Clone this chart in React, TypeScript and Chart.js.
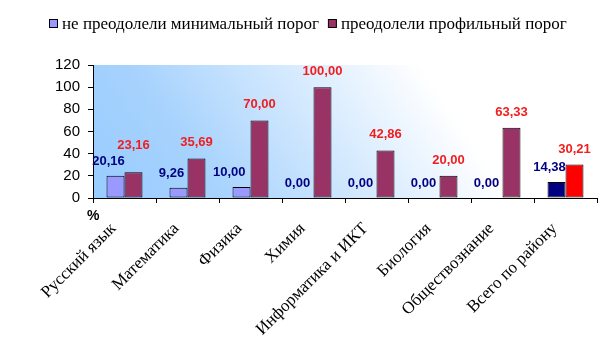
import React, { useEffect, useRef } from 'react';
import { Chart, registerables } from 'chart.js';

Chart.register(...registerables);

const categories = [
  'Русский язык',
  'Математика',
  'Физика',
  'Химия',
  'Информатика и ИКТ',
  'Биология',
  'Обществознание',
  'Всего по району',
];
const seriesNames = ['не преодолели минимальный порог', 'преодолели профильный порог'];
const belowMinimum = [20.16, 9.26, 10.0, 0.0, 0.0, 0.0, 0.0, 14.38];
const aboveProfile = [23.16, 35.69, 70.0, 100.0, 42.86, 20.0, 63.33, 30.21];
const yMin = 0;
const yMax = 120;
const yStep = 20;
const yUnit = '%';

const barColors1 = ['#9999ff', '#9999ff', '#9999ff', '#9999ff', '#9999ff', '#9999ff', '#9999ff', '#000080'];
const barColors2 = ['#993366', '#993366', '#993366', '#993366', '#993366', '#993366', '#993366', '#ff0000'];
const labelColors = ['#000080', '#f01e1e'];

const bgPlugin = {
  id: 'bgGradient',
  beforeDraw(chart: any) {
    const { ctx, chartArea: a } = chart;
    const w = a.right - a.left;
    const h = a.bottom - a.top;
    const g = ctx.createLinearGradient(a.left, a.bottom, a.left + 0.567 * w, a.top - 0.46 * h);
    g.addColorStop(0, '#99ccff');
    g.addColorStop(0.3, '#a6d2fd');
    g.addColorStop(1, '#ffffff');
    ctx.save();
    ctx.fillStyle = g;
    ctx.fillRect(a.left, a.top, w, h);
    ctx.restore();
  },
};

const fmt = (v: number) => v.toFixed(2).replace('.', ',');

const valueLabelPlugin = {
  id: 'valueLabels',
  afterDatasetsDraw(chart: any) {
    const { ctx } = chart;
    ctx.save();
    ctx.font = 'bold 13px "Liberation Sans", Arial, sans-serif';
    ctx.textAlign = 'center';
    ctx.textBaseline = 'alphabetic';
    const m0 = chart.getDatasetMeta(0);
    const m1 = chart.getDatasetMeta(1);
    const d0 = chart.data.datasets[0].data as number[];
    const d1 = chart.data.datasets[1].data as number[];
    for (let j = 0; j < d0.length; j++) {
      const e0 = m0.data[j] as any;
      const e1 = m1.data[j] as any;
      const t0 = fmt(d0[j]);
      const t1 = fmt(d1[j]);
      const w0 = ctx.measureText(t0).width;
      let x0 = e0.x - 7;
      const y0 = e0.y - 11;
      let y1 = e1.y - 12;
      // keep first label clear of neighbouring bar
      const bar1Left = e1.x - e1.width / 2;
      if (x0 + w0 / 2 > bar1Left && y0 > e1.y + 8) {
        x0 = bar1Left - 5 - w0 / 2;
      }
      // lift second label if it collides with the first
      if (Math.abs(y1 - y0) < 14) {
        y1 = y0 - 16;
      }
      ctx.fillStyle = labelColors[0];
      ctx.fillText(t0, x0, y0);
      ctx.fillStyle = labelColors[1];
      ctx.fillText(t1, e1.x, y1);
    }
    ctx.restore();
  },
};

const axisTextPlugin = {
  id: 'axisText',
  afterDraw(chart: any) {
    const { ctx } = chart;
    const xs = chart.scales.x;
    const ys = chart.scales.y;
    ctx.save();
    // category labels, rotated
    ctx.fillStyle = '#000000';
    ctx.font = '17px "Liberation Serif", "Times New Roman", serif';
    ctx.textAlign = 'right';
    ctx.textBaseline = 'middle';
    categories.forEach((label, i) => {
      const c = xs.getPixelForValue(i);
      ctx.save();
      ctx.translate(c - 11, xs.top + 28);
      ctx.rotate((-45 * Math.PI) / 180);
      ctx.fillText(label, 0, 0);
      ctx.restore();
    });
    // unit label
    ctx.font = 'bold 14px "Liberation Sans", Arial, sans-serif';
    ctx.textAlign = 'left';
    ctx.textBaseline = 'alphabetic';
    ctx.fillText(yUnit, ys.right - 6, xs.top + 22);

    // legend, centred on the canvas
    ctx.font = '17px "Liberation Serif", "Times New Roman", serif';
    ctx.textBaseline = 'alphabetic';
    const box = 8;
    const gapText = 5;
    const gapItem = 9;
    const items = chart.data.datasets.map((ds: any) => ({
      label: ds.label as string,
      color: ds.backgroundColor[0] as string,
      w: ctx.measureText(ds.label).width,
    }));
    const total =
      items.reduce((s: number, it: any) => s + box + gapText + it.w, 0) + gapItem * (items.length - 1);
    let x = Math.round((chart.width - total) / 2);
    const yTop = 19;
    items.forEach((it: any) => {
      ctx.fillStyle = it.color;
      ctx.fillRect(x + 0.5, yTop + 0.5, box, box);
      ctx.strokeStyle = '#000000';
      ctx.lineWidth = 1;
      ctx.strokeRect(x + 0.5, yTop + 0.5, box, box);
      ctx.fillStyle = '#000000';
      ctx.fillText(it.label, x + box + gapText, yTop + 10);
      x += box + gapText + it.w + gapItem;
    });
    ctx.restore();
  },
};

export default function App() {
  const canvasRef = useRef<HTMLCanvasElement | null>(null);

  useEffect(() => {
    document.body.style.margin = '0';
    const canvas = canvasRef.current;
    if (!canvas) return;
    const chart = new Chart(canvas, {
      type: 'bar',
      data: {
        labels: categories,
        datasets: [
          {
            label: seriesNames[0],
            data: belowMinimum,
            backgroundColor: barColors1,
            borderColor: '#000000',
            borderWidth: 1,
            borderSkipped: false,
            categoryPercentage: 0.571,
            barPercentage: 1,
          },
          {
            label: seriesNames[1],
            data: aboveProfile,
            backgroundColor: barColors2,
            borderColor: '#000000',
            borderWidth: 1,
            borderSkipped: false,
            categoryPercentage: 0.571,
            barPercentage: 1,
          },
        ],
      },
      options: {
        responsive: false,
        animation: false,
        devicePixelRatio: 1,
        layout: { padding: { left: 0, right: 19, top: 65, bottom: 145 } },
        plugins: {
          legend: { display: false },
          tooltip: { enabled: false },
        },
        scales: {
          x: {
            offset: true,
            grid: {
              display: true,
              offset: true,
              drawOnChartArea: false,
              drawTicks: true,
              tickLength: 5,
              color: '#000000',
            },
            border: { display: true, color: '#000000', width: 1 },
            ticks: { display: false },
            afterFit(scale: any) {
              scale.height = 10;
            },
          },
          y: {
            min: yMin,
            max: yMax,
            ticks: {
              stepSize: yStep,
              padding: 8,
              color: '#000000',
              font: { family: '"Liberation Sans", Arial, sans-serif', size: 15 },
            },
            grid: {
              display: true,
              drawOnChartArea: false,
              drawTicks: true,
              tickLength: 5,
              color: '#000000',
            },
            border: { display: true, color: '#000000', width: 1 },
            afterFit(scale: any) {
              scale.width = 93;
            },
          },
        },
      },
      plugins: [bgPlugin, valueLabelPlugin, axisTextPlugin],
    });
    return () => chart.destroy();
  }, []);

  return (
    <div style={{ position: 'fixed', left: 0, top: 0, width: 616, height: 353, background: '#ffffff' }}>
      <canvas ref={canvasRef} width={616} height={353} />
    </div>
  );
}
